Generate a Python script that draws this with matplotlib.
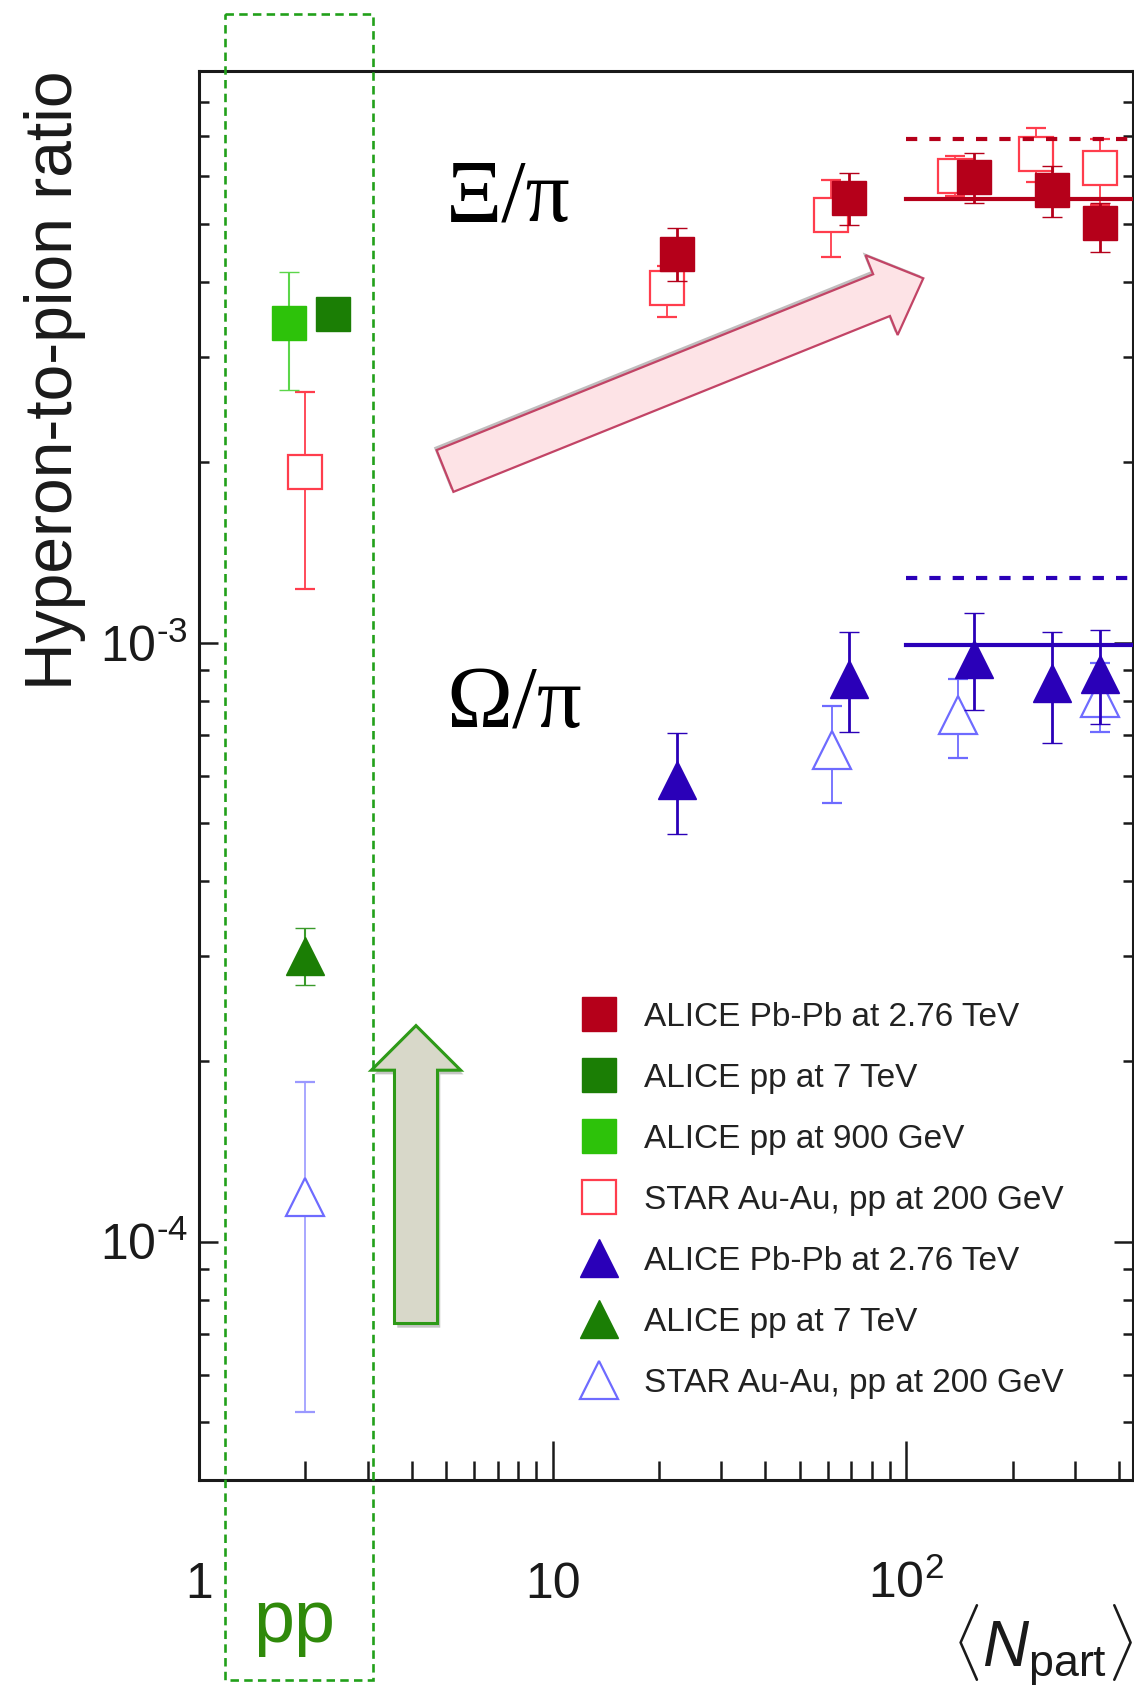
import matplotlib
matplotlib.use("Agg")
import matplotlib.pyplot as plt
import matplotlib.patheffects as pe
from matplotlib.lines import Line2D
from matplotlib.patches import FancyArrow, Rectangle
from matplotlib.ticker import NullFormatter

plt.rcParams['font.family'] = ['Liberation Sans', 'DejaVu Sans']
plt.rcParams['mathtext.fontset'] = 'custom'
plt.rcParams['mathtext.rm'] = 'Liberation Sans'
plt.rcParams['mathtext.it'] = 'Liberation Sans:italic'
plt.rcParams['mathtext.bf'] = 'Liberation Sans:bold'

# ---- Xi / pi ----
npart_pbpb = [22.5, 68.7, 156, 259, 354]
xi_pbpb = [4.46e-3, 5.53e-3, 5.99e-3, 5.69e-3, 5.02e-3]
xi_pbpb_lo = [0.45e-3, 0.55e-3, 0.57e-3, 0.56e-3, 0.53e-3]
xi_pbpb_hi = [0.46e-3, 0.54e-3, 0.58e-3, 0.55e-3, 0.40e-3]

npart_star_xi = [21.0, 61.4, 137, 233, 354]
xi_star = [3.91e-3, 5.18e-3, 6.02e-3, 6.54e-3, 6.20e-3]
xi_star_lo = [0.41e-3, 0.77e-3, 0.45e-3, 0.66e-3, 0.82e-3]
xi_star_hi = [0.35e-3, 0.75e-3, 0.48e-3, 0.69e-3, 0.72e-3]

# pp points (plotted at Npart ~ 2)
x_pp900 = [1.80]
xi_pp900 = [3.41e-3]
xi_pp900_lo = [0.77e-3]
xi_pp900_hi = [0.75e-3]

x_pp7 = [2.40]
xi_pp7 = [3.54e-3]
xi_pp7_err = [0.08e-3]

x_star_pp = [2.00]
xi_star_pp = [1.93e-3]
xi_star_pp_lo = [0.70e-3]
xi_star_pp_hi = [0.69e-3]

# ---- Omega / pi ----
om_pbpb = [5.89e-4, 8.70e-4, 9.38e-4, 8.57e-4, 8.87e-4]
om_pbpb_lo = [1.10e-4, 1.60e-4, 1.66e-4, 1.77e-4, 1.56e-4]
om_pbpb_hi = [1.17e-4, 1.70e-4, 1.82e-4, 1.83e-4, 1.63e-4]

npart_star_om = [61.5, 140, 354]
om_star = [6.61e-4, 7.56e-4, 8.08e-4]
om_star_lo = [1.22e-4, 1.15e-4, 1.00e-4]
om_star_hi = [1.24e-4, 1.14e-4, 1.18e-4]

x_om_pp7 = [2.00]
om_pp7 = [3.00e-4]
om_pp7_lo = [0.32e-4]
om_pp7_hi = [0.345e-4]

x_om_star_pp = [2.00]
om_star_pp = [1.185e-4]
om_star_pp_lo = [0.665e-4]
om_star_pp_hi = [0.663e-4]

# levels (solid: ALICE central, dashed: model)
level_x = [100, 1000]
xi_level = 5.51e-3
xi_level_dash = 6.92e-3
om_level = 9.9e-4
om_level_dash = 1.284e-3

legend_labels = ['ALICE Pb-Pb at 2.76 TeV', 'ALICE pp at 7 TeV', 'ALICE pp at 900 GeV',
                 'STAR Au-Au, pp at 200 GeV', 'ALICE Pb-Pb at 2.76 TeV', 'ALICE pp at 7 TeV',
                 'STAR Au-Au, pp at 200 GeV']

c_red = '#b5001a'
c_star_red = '#ff3d4d'
c_dkgreen = '#1b7e05'
c_ltgreen = '#2dc20a'
c_blue = '#2a00b8'
c_star_blue = '#6e6bff'
c_text = '#1a1a1a'

fig = plt.figure(figsize=(11.34, 16.86), dpi=100)
ax = fig.add_axes([0.17549, 0.12218, 0.82363, 0.83571])
ax.set_xscale('log')
ax.set_yscale('log')
ax.set_xlim(1, 438)
ax.set_ylim(4.0e-5, 9.0e-3)

# open STAR points (behind)
ax.errorbar(npart_star_xi, xi_star, yerr=[xi_star_lo, xi_star_hi], fmt='s', ms=24,
            mfc='white', mec=c_star_red, mew=1.6, ecolor=c_star_red, elinewidth=1.3,
            capsize=7.5, capthick=1.3, zorder=2)
ax.errorbar(x_star_pp, xi_star_pp, yerr=[xi_star_pp_lo, xi_star_pp_hi], fmt='s', ms=24,
            mfc='white', mec=c_star_red, mew=1.6, ecolor=c_star_red, elinewidth=1.3,
            capsize=7.5, capthick=1.3, zorder=2)
ax.errorbar(npart_star_om, om_star, yerr=[om_star_lo, om_star_hi], fmt='^', ms=28,
            mfc='white', mec=c_star_blue, mew=1.6, ecolor=c_star_blue, elinewidth=1.3,
            capsize=7.5, capthick=1.3, zorder=2)
ax.errorbar(x_om_star_pp, om_star_pp, yerr=[om_star_pp_lo, om_star_pp_hi], fmt='^', ms=28,
            mfc='white', mec=c_star_blue, mew=1.6, ecolor='#9a98ff', elinewidth=1.2,
            capsize=7.5, capthick=1.2, zorder=2)

# reference levels
ax.plot(level_x, [xi_level] * 2, color=c_red, lw=3.0, zorder=3)
ax.plot(level_x, [xi_level_dash] * 2, color=c_red, lw=3.0, ls=(0, (2.7, 2.9)), zorder=3)
ax.plot(level_x, [om_level] * 2, color=c_blue, lw=3.0, zorder=3)
ax.plot(level_x, [om_level_dash] * 2, color=c_blue, lw=3.0, ls=(0, (2.7, 2.9)), zorder=3)

# ALICE points
ax.errorbar(npart_pbpb, xi_pbpb, yerr=[xi_pbpb_lo, xi_pbpb_hi], fmt='s', ms=24,
            mfc=c_red, mec=c_red, mew=1, ecolor=c_red, elinewidth=2.0,
            capsize=7.5, capthick=2.0, zorder=4)
ax.errorbar(npart_pbpb, om_pbpb, yerr=[om_pbpb_lo, om_pbpb_hi], fmt='^', ms=27,
            mfc=c_blue, mec=c_blue, mew=1, ecolor=c_blue, elinewidth=2.0,
            capsize=7.5, capthick=2.0, zorder=4)
ax.errorbar(x_pp900, xi_pp900, yerr=[xi_pp900_lo, xi_pp900_hi], fmt='s', ms=24,
            mfc=c_ltgreen, mec=c_ltgreen, mew=1, ecolor='#5cd64a', elinewidth=1.5,
            capsize=7.5, capthick=1.5, zorder=4)
ax.errorbar(x_pp7, xi_pp7, yerr=xi_pp7_err, fmt='s', ms=24,
            mfc=c_dkgreen, mec=c_dkgreen, mew=1, ecolor=c_dkgreen, elinewidth=1.5,
            capsize=0, zorder=4)
ax.errorbar(x_om_pp7, om_pp7, yerr=[om_pp7_lo, om_pp7_hi], fmt='^', ms=27,
            mfc=c_dkgreen, mec=c_dkgreen, mew=1, ecolor='#3a9a2a', elinewidth=1.5,
            capsize=7.5, capthick=1.5, zorder=4)

# axes styling
for s in ax.spines.values():
    s.set_linewidth(2.2)
    s.set_color(c_text)
ax.tick_params(which='both', direction='in', top=False, right=True, width=1.8,
               color=c_text, labelcolor=c_text)
ax.tick_params(axis='x', which='major', length=28, pad=85, labelsize=36)
ax.tick_params(axis='x', which='minor', length=14)
ax.tick_params(axis='y', which='major', length=14, pad=8, labelsize=36)
ax.tick_params(axis='y', which='minor', length=7)
ax.set_xticks([1, 10, 100])
ax.set_xticklabels(['1', '10', r'$10^{2}$'])
ax.set_yticks([1e-4, 1e-3])
ax.set_yticklabels(['$10^{\u20104}$', '$10^{\u20103}$'])
ax.xaxis.set_minor_formatter(NullFormatter())
ax.yaxis.set_minor_formatter(NullFormatter())
plt.setp(ax.get_xticklabels(), va='baseline')

ax.set_ylabel('Hyperon-to-pion ratio', fontsize=47.5, loc='top', color=c_text)
ax.yaxis.set_label_coords(-0.121, 1.0)
ax.set_xlabel(r'$\langle N_{\mathrm{part}}\rangle$', fontsize=46, loc='right', color=c_text)
ax.xaxis.set_label_coords(1.0, -0.0866)

ax.text(0.2645, 0.9092, '\u039e/\u03c0', transform=ax.transAxes, fontsize=63,
        family=['Liberation Serif', 'DejaVu Serif'], va='center', ha='left', color='black')
ax.text(0.2645, 0.5493, '\u03a9/\u03c0', transform=ax.transAxes, fontsize=64,
        family=['Liberation Serif', 'DejaVu Serif'], va='center', ha='left', color='black')

# legend
handles = [
    Line2D([], [], ls='none', marker='s', ms=24, mfc=c_red, mec=c_red),
    Line2D([], [], ls='none', marker='s', ms=24, mfc=c_dkgreen, mec=c_dkgreen),
    Line2D([], [], ls='none', marker='s', ms=24, mfc=c_ltgreen, mec=c_ltgreen),
    Line2D([], [], ls='none', marker='s', ms=24, mfc='white', mec=c_star_red, mew=1.6),
    Line2D([], [], ls='none', marker='^', ms=27, mfc=c_blue, mec=c_blue),
    Line2D([], [], ls='none', marker='^', ms=27, mfc=c_dkgreen, mec=c_dkgreen),
    Line2D([], [], ls='none', marker='^', ms=28, mfc='white', mec=c_star_blue, mew=1.6),
]
leg = ax.legend(handles, legend_labels, loc='upper left', bbox_to_anchor=(0.4111, 0.3392),
                frameon=False, fontsize=24, handlelength=0.96, handletextpad=0.88,
                labelspacing=0.90, borderpad=0, borderaxespad=0)
for t in leg.get_texts():
    t.set_color('#222222')

# overlay in pixel coordinates for the drawn arrows and the pp box
ov = fig.add_axes([0, 0, 1, 1], zorder=5)
ov.set_xlim(0, 1134)
ov.set_ylim(1686, 0)
ov.axis('off')
ov.patch.set_alpha(0)

pink = FancyArrow(445, 471, 478.3, -192.7, width=45, head_width=86, head_length=45,
                  length_includes_head=True, fc='#fde3e6', ec='#c24466', lw=1.6,
                  path_effects=[pe.SimplePatchShadow(offset=(-2, 2), alpha=0.35), pe.Normal()])
ov.add_patch(pink)
green = FancyArrow(416, 1323.5, 0, -297.9, width=43, head_width=89.3, head_length=44.6,
                   length_includes_head=True, fc='#d8d8c9', ec='#2e9a18', lw=2.2,
                   path_effects=[pe.SimplePatchShadow(offset=(2, -3), alpha=0.3), pe.Normal()])
ov.add_patch(green)

ov.add_patch(Rectangle((225, 14), 148, 1666, fill=False, ec='#22a01a', lw=1.9,
                       ls=(0, (3.2, 2.0))))
ov.text(294, 1642, 'pp', fontsize=53, color='#2f8a0a', ha='center', va='baseline')

fig.savefig('out.png', dpi=100)
